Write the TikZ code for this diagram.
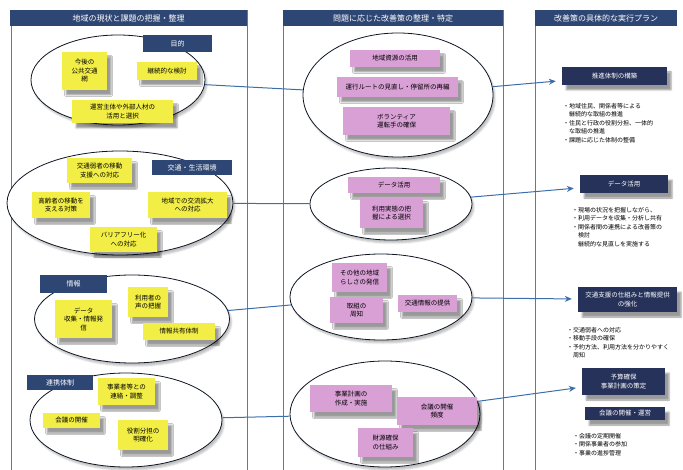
\documentclass[tikz,border=0pt]{standalone}
\usepackage{fontspec}
\newfontfamily\cjk{Noto Sans CJK JP}
\usetikzlibrary{shapes.geometric,arrows.meta,shadows.blur}
\definecolor{navy}{HTML}{2D4673}
\definecolor{darknavy}{HTML}{26325A}
\definecolor{panelblue}{HTML}{5A7AA8}
\definecolor{linkblue}{HTML}{3C6EAA}
\definecolor{noteyellow}{HTML}{F2EE45}
\definecolor{notepink}{HTML}{D9A0D6}
\begin{document}
\begin{tikzpicture}[x=1pt,y=-1pt,
    wh/.style 2 args={minimum width=#1pt, minimum height=#2pt},
    panel/.style={draw=panelblue, line width=0.7pt},
    header/.style={fill=navy, text=white, font=\cjk\fontsize{8}{9}\selectfont, inner sep=0pt},
    tag/.style={fill=navy, text=white, font=\cjk\fontsize{7}{8}\selectfont, inner sep=0pt},
    group/.style={ellipse, draw=black!70!navy, line width=0.8pt, fill=white, inner sep=0pt,
        blur shadow={shadow xshift=2pt, shadow yshift=-3pt, shadow opacity=25}},
    note/.style={fill=noteyellow, font=\cjk\fontsize{6.5}{8.5}\selectfont, align=center, inner sep=0pt,
        blur shadow={shadow xshift=4pt, shadow yshift=-5pt, shadow opacity=40}},
    pnote/.style={note, fill=notepink},
    plan/.style={fill=darknavy, text=white, font=\cjk\fontsize{6.5}{8.5}\selectfont, align=center, inner sep=0pt,
        blur shadow={shadow xshift=4pt, shadow yshift=-5pt, shadow opacity=40}},
    memo/.style={font=\cjk\fontsize{6}{8.5}\selectfont, align=left, anchor=north west, inner sep=0pt},
    link/.style={draw=linkblue, line width=1pt},
    arrow/.style={link, -{Stealth[length=7pt,width=6pt]}, shorten >=6pt}]
    \useasboundingbox (0,0) rectangle (683,470);

    % panels
    \draw[panel] (11,470) -- (11,10) -- (247,10) -- (247,470);
    \draw[panel] (283,470) -- (283,10) -- (503,10) -- (503,470);
    \draw[panel] (535,470) -- (535,10);
    \node[header, wh={237}{16}] (h1) at (128.5,18) {地域の現状と課題の把握・整理};
    \node[header, wh={220}{16}] (h2) at (393,18) {問題に応じた改善策の整理・特定};
    \node[header, wh={142}{16}] (h3) at (606,18) {改善策の具体的な実行プラン};

    % groups
    \node[group, wh={174}{90}] (e1) at (118,80) {};
    \node[group, wh={226}{104}] (e2) at (120,203) {};
    \node[group, wh={195}{88}] (e3) at (132,319) {};
    \node[group, wh={192}{94}] (e4) at (126,420) {};
    \node[group, wh={190}{124}] (m1) at (398,95) {};
    \node[group, wh={162}{72}] (m2) at (391,204) {};
    \node[group, wh={182}{86}] (m3) at (381,297) {};
    \node[group, wh={190}{106}] (m4) at (385,414) {};

    \draw[link] (e1) -- (m1);
    \draw[link] (e2) -- (m2);
    \draw[link] (e3) -- (m3);
    \draw[link] (e4) -- (m4);

    % current issues
    \node[note, wh={45}{38}] (e1a) at (84.5,71) {今後の\\公共交通\\網};
    \node[note, wh={60}{18}] (e1b) at (167,71) {継続的な検討};
    \node[note, wh={101}{23}] (e1c) at (122.5,111.5) {運営主体や外部人材の\\活用と選択};
    \node[tag, wh={69}{17}] (t1) at (177.5,43.5) {目的};

    \node[note, wh={65}{25}] (e2a) at (99.5,170.5) {交通弱者の移動\\支援への対応};
    \node[note, wh={58}{26}] (e2b) at (61,205) {高齢者の移動を\\支える対策};
    \node[note, wh={79}{26}] (e2c) at (187.5,205) {地域での交流拡大\\への対応};
    \node[note, wh={67}{25}] (e2d) at (123.5,239.5) {バリアフリー化\\への対応};
    \node[tag, wh={80}{15}] (t2) at (192,167.5) {交通・生活環境};

    \node[note, wh={57}{38}] (e3a) at (83.5,319) {データ\\収集・情報発\\信};
    \node[note, wh={40}{30}] (e3b) at (148,302) {利用者の\\声の把握};
    \node[note, wh={72}{17}] (e3c) at (179,331.5) {情報共有体制};
    \node[tag, wh={67}{18}] (t3) at (73.5,284) {情報};

    \node[note, wh={57}{27}] (e4a) at (126.5,391.5) {事業者等との\\連絡・調整};
    \node[note, wh={57}{15}] (e4b) at (71.5,420.5) {会議の開催};
    \node[note, wh={50}{30}] (e4c) at (143,435) {役割分担の\\明確化};
    \node[tag, wh={66}{15}] (t4) at (60,382.5) {連携体制};

    % measures
    \node[pnote, wh={90}{17}] (m1a) at (395,58.5) {地域資源の活用};
    \node[pnote, wh={121}{20}] (m1b) at (397.5,87) {運行ルートの見直し・停留所の再編};
    \node[pnote, wh={107}{28}] (m1c) at (396.5,121) {ボランティア\\運転手の確保};

    \node[pnote, wh={92}{16}] (m2a) at (394,185) {データ活用};
    \node[pnote, wh={63}{30}] (m2b) at (391.5,213) {利用実態の把\\握による選択};

    \node[pnote, wh={55}{29}] (m3a) at (359.5,277.5) {その他の地域\\らしさの発信};
    \node[pnote, wh={53}{26}] (m3b) at (356.5,310) {取組の\\周知};
    \node[pnote, wh={59}{17}] (m3c) at (427.5,303.5) {交通情報の提供};

    \node[pnote, wh={82}{27}] (m4a) at (351,398.5) {事業計画の\\作成・実施};
    \node[pnote, wh={80}{28}] (m4b) at (437,411) {会議の開催\\頻度};
    \node[pnote, wh={55}{29}] (m4c) at (385.5,442.5) {財源確保\\の仕組み};

    % plans
    \node[plan, wh={105}{18}] (r1) at (614.5,76) {推進体制の構築};
    \node[memo] (r1t) at (563,103) {・地域住民、関係者等による\\\quad 継続的な取組の推進\\・住民と行政の役割分担、一体的\\\quad な取組の推進\\・課題に応じた体制の整備};

    \node[plan, wh={88}{18}] (r2) at (624,184) {データ活用};
    \node[memo] (r2t) at (572,207) {・現場の状況を把握しながら、\\・利用データを収集・分析し共有\\・関係者間の連携による改善策の\\\quad 検討\\\quad 継続的な見直しを実施する};

    \node[plan, wh={99}{25}] (r3) at (627.5,299.5) {交通支援の仕組みと情報提供\\の強化};
    \node[memo] (r3t) at (567,327) {・交通弱者への対応\\・移動手段の確保\\・予約方法、利用方法を分かりやすく\\\quad 周知};

    \node[plan, wh={83}{27}] (r4a) at (623.5,381.5) {予算確保\\事業計画の策定};
    \node[plan, wh={80}{13}] (r4b) at (625,413.5) {会議の開催・運営};
    \node[memo] (r4t) at (573,433) {・会議の定期開催\\・関係事業者の参加\\・事業の進捗管理};

    \draw[arrow] (m1) -- (r1);
    \draw[arrow] (m2) -- (r2);
    \draw[arrow] (m3) -- (r3);
    \draw[arrow] (m4) -- (r4a);
\end{tikzpicture}
\end{document}
